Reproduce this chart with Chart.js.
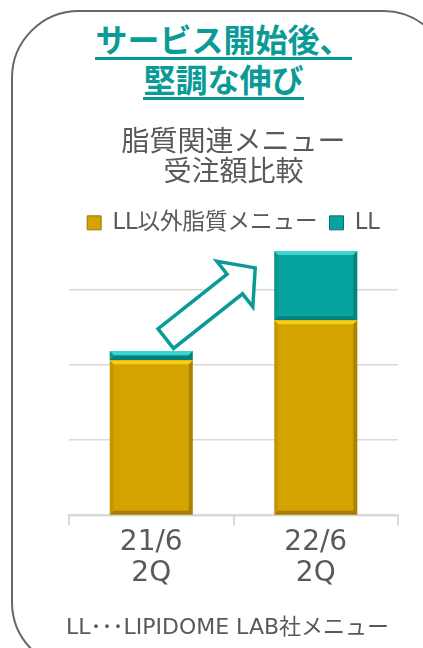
<!DOCTYPE html>
<html>
<head>
<meta charset="utf-8">
<script src="https://cdn.jsdelivr.net/npm/chart.js@4/dist/chart.umd.min.js"></script>
<style>
    html, body { margin: 0; padding: 0; background: #fff; overflow: hidden; }
    #page { position: relative; width: 423px; height: 648px; overflow: hidden; }
    #frame {
        position: absolute; left: 11px; top: 10px; width: 440px; height: 660px;
        border: 2px solid #666; border-radius: 68px; box-sizing: border-box;
    }
    #headline {
        position: absolute; left: 0; top: 15px; width: 447px; text-align: center;
        font-family: "Noto Sans CJK JP", sans-serif; font-weight: bold; font-size: 32px; color: #0a9b97;
    }
    #headline div { height: 40px; }
    #headline span {
        display: inline-block; line-height: 32px; padding-bottom: 3px; border-bottom: 3px solid #0a9b97;
    }
    #note {
        position: absolute; left: 0; top: 614px; width: 455px; text-align: center;
        font-family: "DejaVu Sans", "Noto Sans CJK JP", sans-serif; font-size: 22px; line-height: 26px; color: #595959;
    }
    #chartBox { position: absolute; left: 0; top: 0; width: 423px; height: 648px; }
</style>
</head>
<body>
<div id="page">
    <div id="frame"></div>
    <div id="headline">
        <div><span>サービス開始後、</span></div>
        <div><span>堅調な伸び</span></div>
    </div>
    <div id="chartBox"><canvas id="chart"></canvas></div>
    <div id="note">LL･･･LIPIDOME LAB社メニュー</div>
</div>
<script>
const categories = [['21/6', '2Q'], ['22/6', '2Q']];
const seriesNames = ['LL以外脂質メニュー', 'LL'];
const otherLipidValues = [206, 259];
const llValues = [12, 92];
const chartTitle = ['脂質関連メニュー', '受注額比較'];

const GRAY = '#595959';
const TEAL_LINE = '#0a9b97';

Chart.defaults.font.family = '"DejaVu Sans", "Noto Sans CJK JP", sans-serif';
Chart.defaults.color = GRAY;

// rough copy of the office "bevel" bar look
const bevel = {
    id: 'bevel',
    afterDatasetsDraw(chart) {
        const ctx = chart.ctx;
        chart.data.datasets.forEach((ds, i) => {
            const meta = chart.getDatasetMeta(i);
            meta.data.forEach(el => {
                const { x, y, base, width } = el.getProps(['x', 'y', 'base', 'width'], true);
                const l = x - width / 2, r = x + width / 2;
                const t = Math.min(y, base), b = Math.max(y, base);
                const d = Math.min(4, (b - t) / 2);
                ctx.save();
                ctx.fillStyle = ds.lightColor;
                ctx.beginPath();
                ctx.moveTo(l, t); ctx.lineTo(r, t); ctx.lineTo(r - d, t + d); ctx.lineTo(l + d, t + d);
                ctx.closePath(); ctx.fill();
                ctx.fillStyle = 'rgba(0,0,0,0.08)';
                ctx.beginPath();
                ctx.moveTo(l, t); ctx.lineTo(l + d, t + d); ctx.lineTo(l + d, b - d); ctx.lineTo(l, b);
                ctx.closePath(); ctx.fill();
                ctx.fillStyle = 'rgba(0,0,0,0.2)';
                ctx.beginPath();
                ctx.moveTo(r, t); ctx.lineTo(r - d, t + d); ctx.lineTo(r - d, b - d); ctx.lineTo(r, b);
                ctx.closePath(); ctx.fill();
                ctx.fillStyle = 'rgba(0,0,0,0.22)';
                ctx.beginPath();
                ctx.moveTo(l, b); ctx.lineTo(l + d, b - d); ctx.lineTo(r - d, b - d); ctx.lineTo(r, b);
                ctx.closePath(); ctx.fill();
                ctx.restore();
            });
        });
    }
};

// hollow arrow from the first bar to the second one
const growthArrow = {
    id: 'growthArrow',
    afterDatasetsDraw(chart) {
        const meta = chart.getDatasetMeta(1);
        const a = meta.data[0], c = meta.data[1];
        const tail = { x: a.x + 14.5, y: a.y - 12.5 };
        const tip = { x: c.x - c.width / 2 - 19, y: c.y + 17 };
        const len = Math.hypot(tip.x - tail.x, tip.y - tail.y);
        const ux = (tip.x - tail.x) / len, uy = (tip.y - tail.y) / len;
        const nx = -uy, ny = ux;
        const h = 12.5, H = 29, hl = 26;
        const pts = [[0, -h], [len - hl, -h], [len - hl, -H], [len, 0], [len - hl, H], [len - hl, h], [0, h]];
        const ctx = chart.ctx;
        ctx.save();
        ctx.beginPath();
        pts.forEach(([u, v], k) => {
            const px = tail.x + u * ux + v * nx;
            const py = tail.y + u * uy + v * ny;
            k ? ctx.lineTo(px, py) : ctx.moveTo(px, py);
        });
        ctx.closePath();
        ctx.fillStyle = '#fff';
        ctx.fill();
        ctx.lineWidth = 3.5;
        ctx.lineJoin = 'miter';
        ctx.strokeStyle = TEAL_LINE;
        ctx.stroke();
        ctx.restore();
    }
};

new Chart(document.getElementById('chart'), {
    type: 'bar',
    data: {
        labels: categories,
        datasets: [
            {
                label: seriesNames[0],
                data: otherLipidValues,
                backgroundColor: '#d5a300',
                lightColor: '#f6cf10',
                legendEdge: '#9c7800',
                borderWidth: 0
            },
            {
                label: seriesNames[1],
                data: llValues,
                backgroundColor: '#06a39f',
                lightColor: '#3fd3cd',
                legendEdge: '#067370',
                borderWidth: 0
            }
        ]
    },
    options: {
        responsive: true,
        maintainAspectRatio: false,
        animation: false,
        layout: { padding: { left: 69, right: 25, top: 118, bottom: 57 } },
        datasets: { bar: { categoryPercentage: 1, barPercentage: 0.505 } },
        plugins: {
            title: {
                display: true,
                text: chartTitle,
                color: GRAY,
                font: { size: 28, weight: 'normal', lineHeight: 1.1 },
                padding: { top: 10, bottom: 10 }
            },
            legend: {
                display: true,
                labels: {
                    color: GRAY,
                    font: { size: 22.5 },
                    boxWidth: 14,
                    boxHeight: 14,
                    padding: 12,
                    generateLabels(chart) {
                        return chart.data.datasets.map((ds, i) => ({
                            text: ds.label,
                            fillStyle: ds.backgroundColor,
                            strokeStyle: ds.legendEdge,
                            lineWidth: 1,
                            fontColor: GRAY,
                            datasetIndex: i
                        }));
                    }
                }
            },
            tooltip: { enabled: false }
        },
        scales: {
            x: {
                stacked: true,
                offset: true,
                grid: { offset: true, drawOnChartArea: false, drawTicks: true, tickLength: 10, color: '#d9d9d9', lineWidth: 2 },
                border: { color: '#d9d9d9', width: 2 },
                ticks: { color: GRAY, font: { size: 28, lineHeight: 1.1 }, padding: 2, maxRotation: 0 }
            },
            y: {
                stacked: true,
                min: 0,
                max: 360,
                ticks: { display: false, stepSize: 100, includeBounds: false },
                border: { display: false },
                grid: { drawTicks: false, color: '#d9d9d9', lineWidth: 1.5 }
            }
        }
    },
    plugins: [bevel, growthArrow]
});
</script>
</body>
</html>
